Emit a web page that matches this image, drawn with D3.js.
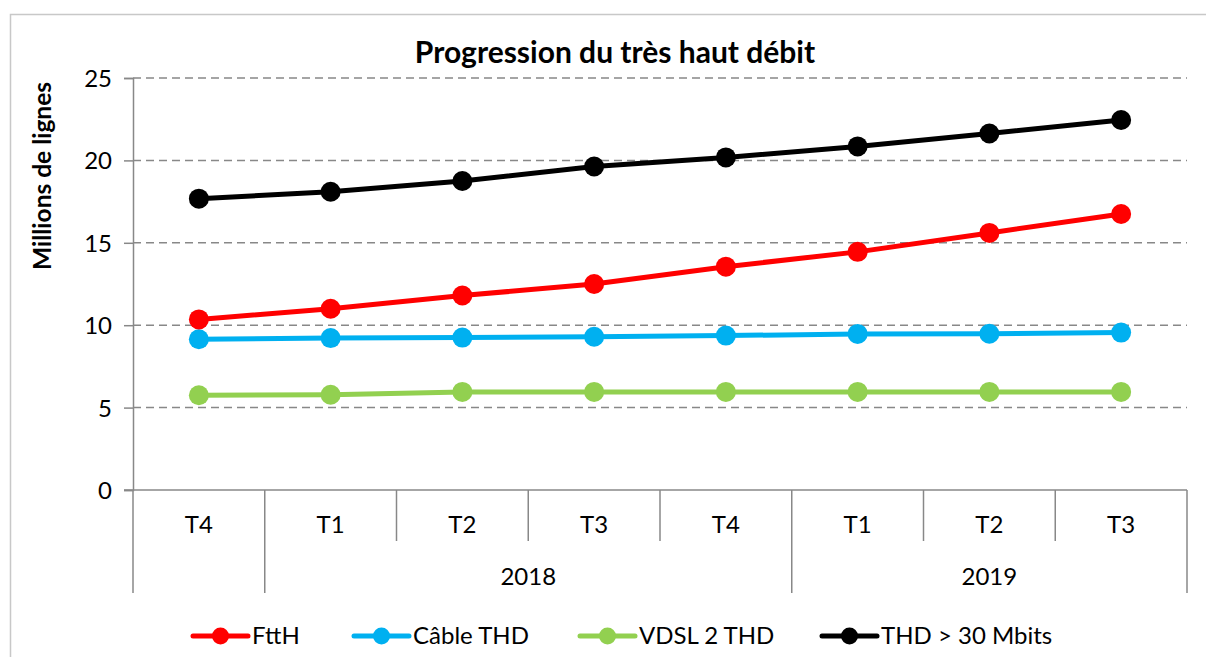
<!DOCTYPE html>
<html><head><meta charset="utf-8">
<script src="https://cdn.jsdelivr.net/npm/d3@7"></script>
<style>body{margin:0;background:#fff;}svg{display:block;font-family:Lato, "Open Sans", sans-serif;}</style>
</head><body>
<svg id="c" width="1206" height="657"></svg>
<script>
const quarters = ["T4","T1","T2","T3","T4","T1","T2","T3"];
const years = [{label:"", from:0, to:1},{label:"2018", from:1, to:5},{label:"2019", from:5, to:8}];
const seriesNames = ["FttH","Câble THD","VDSL 2 THD","THD > 30 Mbits"];
const seriesColors = ["#ff0000","#00b0f0","#92d050","#000000"];
const fttH = [10.35, 11.0, 11.8, 12.5, 13.55, 14.45, 15.6, 16.75];
const cable = [9.15, 9.22, 9.25, 9.3, 9.37, 9.47, 9.48, 9.55];
const vdsl = [5.75, 5.78, 5.95, 5.95, 5.95, 5.95, 5.95, 5.95];
const thd30 = [17.68, 18.1, 18.75, 19.63, 20.18, 20.85, 21.63, 22.45];
const yTicks = [0,5,10,15,20,25];
const allSeries = [fttH, cable, vdsl, thd30];

const svg = d3.select("#c");
svg.append("path").attr("d","M10.5,657 V14.5 H1206").attr("fill","none").attr("stroke","#c8c8c8").attr("stroke-width",1.5);

const x0 = 133, x1 = 1187, yTop = 78, yBot = 490;
const x = d3.scaleBand().domain(d3.range(quarters.length)).range([x0,x1]).padding(0);
const y = d3.scaleLinear().domain([0,25]).range([yBot,yTop]);
const axisColor = "#888888";
const fs = 24;

svg.append("g").selectAll("line").data(yTicks.filter(d=>d>0)).join("line")
  .attr("x1",x0).attr("x2",x1).attr("y1",d=>y(d)).attr("y2",d=>y(d))
  .attr("stroke",axisColor).attr("stroke-width",1.5).attr("stroke-dasharray","8,5");

const yAxis = d3.axisLeft(y).tickValues(yTicks).tickSize(9).tickPadding(12).tickFormat(d3.format("d"));
const gy = svg.append("g").attr("transform",`translate(${x0},0)`).call(yAxis);
gy.select(".domain").attr("stroke",axisColor).attr("stroke-width",1.5);
gy.selectAll(".tick line").attr("stroke",axisColor).attr("stroke-width",1.5);
gy.selectAll(".tick text").attr("font-size",fs).attr("fill","#000").attr("font-family","Lato").attr("dy","0.35em");

svg.append("line").attr("x1",x0-9).attr("x2",x1).attr("y1",yBot).attr("y2",yBot).attr("stroke",axisColor).attr("stroke-width",1.5);

const boundaries = d3.range(quarters.length+1);
const yearEdges = new Set(years.flatMap(g=>[g.from,g.to]));
svg.append("g").selectAll("line").data(boundaries).join("line")
  .attr("x1",i=> i<quarters.length ? x(i) : x1).attr("x2",i=> i<quarters.length ? x(i) : x1)
  .attr("y1",yBot).attr("y2",i=> yearEdges.has(i) ? 593 : 541)
  .attr("stroke",axisColor).attr("stroke-width",1.5);

svg.append("g").selectAll("text").data(quarters).join("text")
  .attr("x",(d,i)=>x(i)+x.bandwidth()/2).attr("y",533).attr("text-anchor","middle")
  .attr("font-size",fs).text(d=>d);

svg.append("g").selectAll("text").data(years.filter(g=>g.label)).join("text")
  .attr("x",g=>(x(g.from)+(g.to<quarters.length?x(g.to):x1))/2).attr("y",585).attr("text-anchor","middle")
  .attr("font-size",fs).text(g=>g.label);

svg.append("text").attr("x",615).attr("y",63).attr("text-anchor","middle").attr("font-size",30).attr("font-weight","bold").text("Progression du très haut débit");
svg.append("text").attr("transform","translate(51,176) rotate(-90)").attr("text-anchor","middle").attr("font-size",24.5).attr("font-weight","bold").text("Millions de lignes");

const line = d3.line().x((d,i)=>x(i)+x.bandwidth()/2).y(d=>y(d));
const order = [2,1,0,3];
order.forEach(si=>{
  const g = svg.append("g");
  g.append("path").datum(allSeries[si]).attr("d",line).attr("fill","none").attr("stroke",seriesColors[si]).attr("stroke-width",5).attr("stroke-linejoin","round");
  g.selectAll("circle").data(allSeries[si]).join("circle").attr("cx",(d,i)=>x(i)+x.bandwidth()/2).attr("cy",d=>y(d)).attr("r",10).attr("fill",seriesColors[si]);
});

const legX = [193, 354, 580, 822];
const lg = svg.append("g").selectAll("g").data(seriesNames).join("g").attr("transform",(d,i)=>`translate(${legX[i]},636)`);
lg.append("line").attr("x1",0).attr("x2",55).attr("y1",0).attr("y2",0).attr("stroke",(d,i)=>seriesColors[i]).attr("stroke-width",5).attr("stroke-linecap","round");
lg.append("circle").attr("cx",27.5).attr("cy",0).attr("r",8.5).attr("fill",(d,i)=>seriesColors[i]);
lg.append("text").attr("x",59).attr("y",8).attr("font-size",fs).text(d=>d);
</script>
</body></html>
